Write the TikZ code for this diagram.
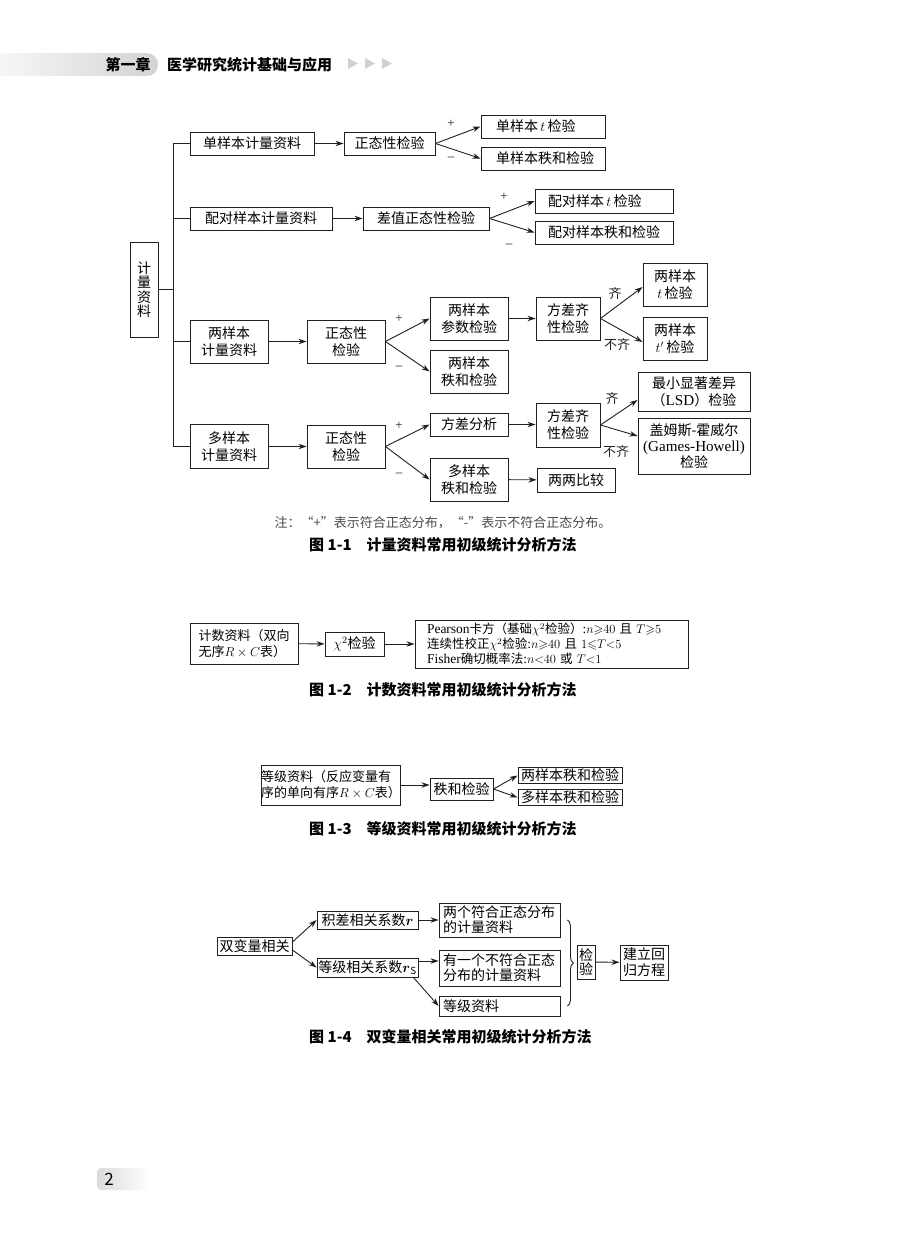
\RequirePackage{fix-cm}
\documentclass[tikz,border=0pt]{standalone}
\usepackage{amsmath,amssymb}
\usepackage{fontspec}
\setmainfont{Noto Sans CJK SC}
\newfontfamily\lat{Liberation Serif}[Scale=1.08]
\usetikzlibrary{arrows.meta,decorations.pathreplacing}

\definecolor{mo}{HTML}{231F20}
\definecolor{gris}{HTML}{4A4A4A}

\newcommand\zw{\fontsize{14}{17}\selectfont}
\newcommand\zwb{\fontsize{13}{16}\selectfont}
\newcommand\xiao{\fontsize{12.5}{15}\selectfont}
\newcommand\biao{\fontsize{15}{18}\selectfont\bfseries}

\tikzset{
  kuang/.style={draw=mo, line width=0.9pt, inner sep=0pt, align=center, font=\zw, text=black},
  jian/.style={draw=mo, line width=0.9pt, -{Stealth[length=8pt,width=5.4pt]}},
  linea/.style={draw=mo, line width=0.9pt},
  signo/.style={font=\lat\fontsize{12}{14}\selectfont, text=mo, inner sep=0pt},
  etiq/.style={font=\zwb, text=mo, inner sep=0pt},
  pie/.style={font=\biao, text=black, anchor=west, inner sep=0pt},
}

\begin{document}
\begin{tikzpicture}[x=1pt, y=-1pt]
        \useasboundingbox (0,0) rectangle (900,1245);
        \fill[white] (0,0) rectangle (900,1245);
        % Cabecera de la pagina
        \shade[rounded corners=11pt, left color=white, right color=black!17] (-40,53) rectangle (158,76);
        \node[font=\fontsize{15}{18}\selectfont\bfseries, inner sep=0pt] (cap) at (128,64.5) {第一章};
        \node[font=\fontsize{15}{18}\selectfont\bfseries, anchor=west, inner sep=0pt] (libro) at (167,64.5) {医学研究统计基础与应用};
        \foreach \x in {348,365,382}
            \fill[black!18] (\x,58) -- (\x+10,63.5) -- (\x,69) -- cycle;

        % Figura 1-1
        \node[kuang, font=\fontsize{14}{14.5}\selectfont, minimum width=28pt, minimum height=95pt] (jl) at (144,289.5) {计\\量\\资\\料};
        \coordinate (tronco) at (173,289.5);
        % rama 1
        \node[kuang, minimum width=124pt, minimum height=23pt] (d1) at (252,143.5) {单样本计量资料};
        \node[kuang, minimum width=91pt, minimum height=23pt] (zt1) at (389.5,143.5) {正态性检验};
        \node[kuang, align=left, text width=94pt, inner xsep=15pt, minimum height=23pt] (t1) at (543,126.5) {单样本$\,t\,$检验};
        \node[kuang, align=left, text width=94pt, inner xsep=15pt, minimum height=23pt] (r1) at (543,158.5) {单样本秩和检验};
        % rama 2
        \node[kuang, minimum width=142pt, minimum height=23pt] (d2) at (261,218.5) {配对样本计量资料};
        \node[kuang, minimum width=126pt, minimum height=23pt] (zt2) at (426,218.5) {差值正态性检验};
        \node[kuang, align=left, text width=112pt, inner xsep=13pt, minimum height=24pt] (t2) at (604,201) {配对样本$\,t\,$检验};
        \node[kuang, align=left, text width=112pt, inner xsep=13pt, minimum height=23pt] (r2) at (604,232.5) {配对样本秩和检验};
        % rama 3
        \node[kuang, minimum width=78pt, minimum height=43pt] (d3) at (229,341.5) {两样本\\计量资料};
        \node[kuang, minimum width=78pt, minimum height=43pt] (zt3) at (346,341.5) {正态性\\检验};
        \node[kuang, minimum width=78pt, minimum height=43pt] (cs3) at (469,318.5) {两样本\\参数检验};
        \node[kuang, minimum width=78pt, minimum height=43pt] (rs3) at (469,371.5) {两样本\\秩和检验};
        \node[kuang, minimum width=64pt, minimum height=43pt] (fc3) at (568,318.5) {方差齐\\性检验};
        \node[kuang, minimum width=64pt, minimum height=43pt] (tq3) at (675,284.5) {两样本\\$t\,$检验};
        \node[kuang, minimum width=64pt, minimum height=43pt] (tb3) at (675,338.5) {两样本\\$t'\,$检验};
        % rama 4
        \node[kuang, minimum width=78pt, minimum height=44pt] (d4) at (229,446.5) {多样本\\计量资料};
        \node[kuang, minimum width=78pt, minimum height=43pt] (zt4) at (346,446.5) {正态性\\检验};
        \node[kuang, minimum width=78pt, minimum height=23pt] (fx4) at (469,424.5) {方差分析};
        \node[kuang, minimum width=78pt, minimum height=43pt] (rs4) at (469,479.5) {多样本\\秩和检验};
        \node[kuang, minimum width=64pt, minimum height=44pt] (fc4) at (568,425) {方差齐\\性检验};
        \node[kuang, minimum width=112pt, minimum height=39pt] (lsd) at (694,391.5) {最小显著差异\\（{\lat LSD}）检验};
        \node[kuang, font=\fontsize{14}{16}\selectfont, minimum width=112pt, minimum height=56pt] (gh) at (694,446) {盖姆斯-霍威尔\\{\lat (Games-Howell)}\\检验};
        \node[kuang, minimum width=78pt, minimum height=24pt] (lb) at (576,480) {两两比较};

        % tronco y ramas
        \draw[linea] (jl.east) -- (tronco);
        \draw[linea] (tronco |- d1.west) -- (tronco |- d4.west);
        \foreach \n in {d1,d2,d3,d4}
            \draw[linea] (tronco |- \n.west) -- (\n.west);
        \draw[jian] (d1) -- (zt1);
        \draw[jian] (zt1.east) -- (t1.west);
        \draw[jian] (zt1.east) -- (r1.west);
        \draw[jian] (d2) -- (zt2);
        \draw[jian] (zt2.east) -- (t2.west);
        \draw[jian] (zt2.east) -- (r2.west);
        \draw[jian] (d3) -- (zt3);
        \draw[jian] (zt3.east) -- (cs3.west);
        \draw[jian] (zt3.east) -- (rs3.west);
        \draw[jian] (cs3) -- (fc3);
        \draw[jian] (fc3.east) -- ([yshift=-2.5pt]tq3.west);
        \draw[jian] (fc3.east) -- ([yshift=-3.5pt]tb3.west);
        \draw[jian] (d4) -- (zt4);
        \draw[jian] (zt4.east) -- (fx4.west);
        \draw[jian] (zt4.east) -- (rs4.west);
        \draw[jian] (fx4.east) -- (fx4.east -| fc4.west);
        \draw[jian] (fc4.east) -- ([yshift=-8.5pt]lsd.west);
        \draw[jian] (fc4.east) -- ([yshift=10pt]gh.west);
        \draw[jian] (rs4) -- (lb);

        % signos + y -
        \node[signo] (p1) at (451,124) {+};
        \node[signo] (m1) at (451,159) {–};
        \node[signo] (p2) at (504,197) {+};
        \node[signo] (m2) at (509,246) {–};
        \node[signo] (p3) at (399,319) {+};
        \node[signo] (m3) at (399,368) {–};
        \node[signo] (p4) at (399,426) {+};
        \node[signo] (m4) at (399,475) {–};
        \node[etiq] (q3) at (615,294) {齐};
        \node[etiq] (nq3) at (617,345) {不齐};
        \node[etiq] (q4) at (612,399) {齐};
        \node[etiq] (nq4) at (616,452) {不齐};

        \node[font=\zwb, text=gris, inner sep=0pt] (nota) at (443,523) {注：“+”表示符合正态分布，“-”表示不符合正态分布。};
        \node[pie] (tit1) at (309,545) {图 1-1\hspace{1em}计量资料常用初级统计分析方法};

        % Figura 1-2
        \node[kuang, font=\zwb, align=left, minimum width=108pt, minimum height=41pt] (js) at (244,643.5) {计数资料（双向\\无序$R\times C$表）};
        \node[kuang, minimum width=59pt, minimum height=24pt] (kf) at (354.5,644) {$\chi^2$检验};
        \node[kuang, font=\xiao, align=left, text width=249pt, inner xsep=12pt, minimum height=48pt] (ps) at (551.5,644)
            {{\lat Pearson}卡方（基础$\chi^2$检验）{\lat :}$n{\geqslant}40$ 且 $T{\geqslant}5$\\
             连续性校正$\chi^2$检验{\lat :}$n{\geqslant}40$ 且 $1{\leqslant}T{<}5$\\
             {\lat Fisher}确切概率法{\lat :}$n{<}40$ 或 $T{<}1$};
        \draw[jian] (js) -- (kf);
        \draw[jian] (kf) -- (ps);
        \node[pie] (tit2) at (309,690) {图 1-2\hspace{1em}计数资料常用初级统计分析方法};

        % Figura 1-3
        \node[kuang, font=\zwb, align=left, minimum width=138pt, minimum height=40pt] (dj) at (331,785) {等级资料（反应变量有\\序的单向有序$R\times C$表）};
        \node[kuang, minimum width=63pt, minimum height=22pt] (zh) at (461.5,789) {秩和检验};
        \node[kuang, minimum width=104pt, minimum height=16pt] (lr) at (570,775.5) {两样本秩和检验};
        \node[kuang, minimum width=104pt, minimum height=16pt] (dr) at (570,797.5) {多样本秩和检验};
        \draw[jian] (dj.east) -- (dj.east -| zh.west);
        \draw[jian] (zh.east) -- (lr.west);
        \draw[jian] (zh.east) -- (dr.west);
        \node[pie] (tit3) at (309,829) {图 1-3\hspace{1em}等级资料常用初级统计分析方法};

        % Figura 1-4
        \node[kuang, minimum width=75pt, minimum height=18pt] (sb) at (254.5,946) {双变量相关};
        \node[kuang, minimum width=101pt, minimum height=18pt] (jc) at (367.5,920) {积差相关系数$\boldsymbol{r}$};
        \node[kuang, minimum width=101pt, minimum height=19pt] (dg) at (367.5,967.5) {等级相关系数$\boldsymbol{r}_{\mathrm{S}}$};
        \node[kuang, font=\fontsize{14}{15}\selectfont, align=left, text width=113pt, inner xsep=4pt, minimum height=34pt] (lg) at (499.5,920) {两个符合正态分布\\的计量资料};
        \node[kuang, font=\fontsize{14}{15}\selectfont, align=left, text width=113pt, inner xsep=4pt, minimum height=36pt] (yg) at (499.5,968) {有一个不符合正态\\分布的计量资料};
        \node[kuang, align=left, text width=113pt, inner xsep=4pt, minimum height=20pt] (dz) at (499.5,1006) {等级资料};
        \node[kuang, font=\fontsize{14}{14.5}\selectfont, minimum width=18pt, minimum height=34pt] (jy) at (586,962) {检\\验};
        \node[kuang, font=\fontsize{14}{16}\selectfont, minimum width=48pt, minimum height=35pt] (hg) at (644,962.5) {建立回\\归方程};
        \draw[jian] ([yshift=4pt]sb.east) -- (jc.west);
        \draw[jian] ([yshift=-4pt]sb.east) -- (dg.west);
        \draw[jian] (jc) -- (lg);
        \draw[jian] ([yshift=6.5pt]dg.east) -- ([yshift=6.5pt]dg.east -| yg.west);
        \draw[jian] ([xshift=-5pt]dg.south east) -- (dz.west);
        \draw[linea, decorate, decoration={brace, amplitude=6pt}] ([xshift=7pt]lg.east) -- ([xshift=7pt]dz.east);
        \draw[jian] (jy) -- (hg);
        \node[pie] (tit4) at (309,1037) {图 1-4\hspace{1em}双变量相关常用初级统计分析方法};

        % Pie de pagina
        \shade[rounded corners=4pt, left color=black!14, right color=white] (97,1168) rectangle (150,1190);
        \node[font=\fontsize{17}{20}\selectfont, inner sep=0pt] (pag) at (109,1179.5) {2};
\end{tikzpicture}
\end{document}
